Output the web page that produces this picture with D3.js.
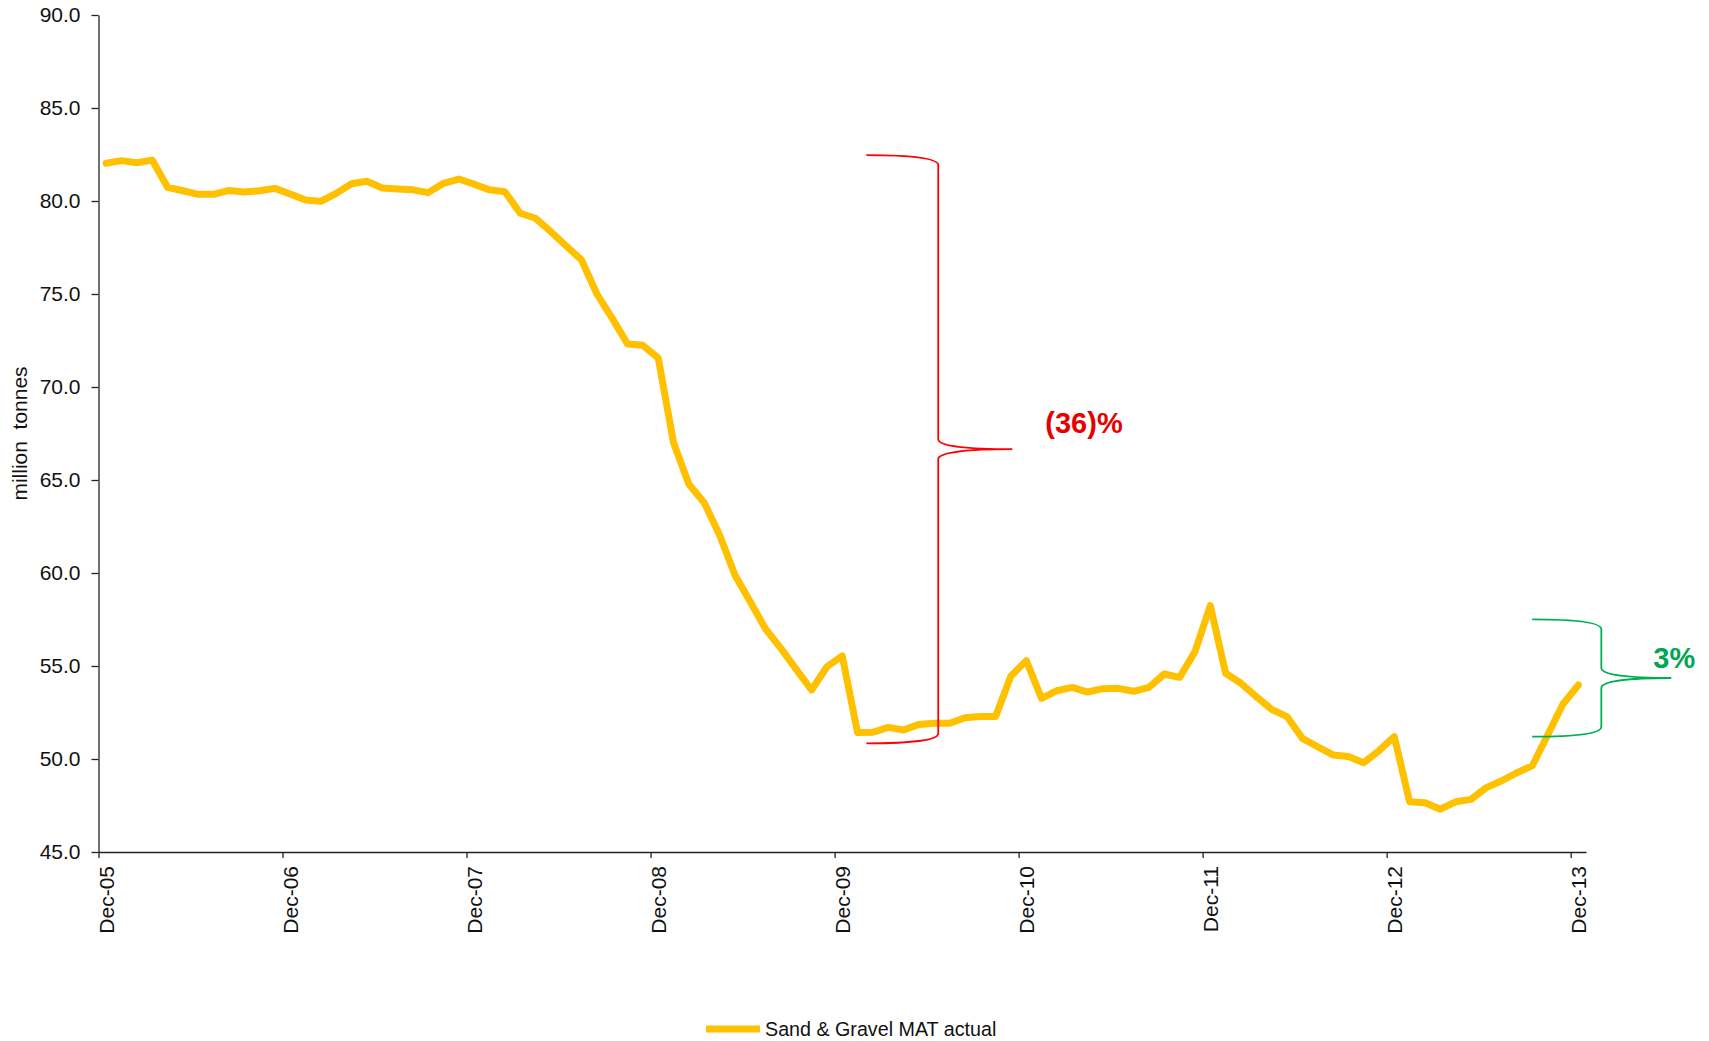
<!DOCTYPE html>
<html>
<head>
<meta charset="utf-8">
<script src="https://cdn.jsdelivr.net/npm/d3@7"></script>
<style>
  body { margin: 0; background: #fff; }
  svg { display: block; font-family: Arial, "Liberation Sans", sans-serif; }
  .axis path, .axis line { stroke: #222; stroke-width: 1.3px; }
  .axis text { font-size: 21px; fill: #111; font-family: Arial, "Liberation Sans", sans-serif; }
</style>
</head>
<body>
<div id="chart-area"></div>
<script>
// Sand & Gravel, moving annual total, one value per month Dec-05 .. Dec-13 (million tonnes)
var mat = [
  82.03, 82.17, 82.06, 82.20, 80.74, 80.55, 80.36, 80.36, 80.57, 80.48, 80.55, 80.68,
  80.38, 80.05, 79.98, 80.41, 80.93, 81.06, 80.70, 80.65, 80.60, 80.45, 80.95, 81.18,
  80.90, 80.60, 80.50, 79.34, 79.07, 78.35, 77.58, 76.83, 75.00, 73.69, 72.31, 72.24,
  71.56, 67.00, 64.77, 63.78, 62.04, 59.89, 58.46, 56.99, 55.95, 54.82, 53.71, 54.96,
  55.54, 51.42, 51.44, 51.70, 51.56, 51.86, 51.92, 51.92, 52.22, 52.28, 52.28, 54.46,
  55.29, 53.26, 53.67, 53.85, 53.60, 53.78, 53.80, 53.64, 53.85, 54.57, 54.39, 55.77,
  58.25, 54.61, 54.07, 53.35, 52.67, 52.28, 51.11, 50.66, 50.22, 50.13, 49.80, 50.45,
  51.20, 47.70, 47.65, 47.30, 47.70, 47.83, 48.46, 48.83, 49.26, 49.64, 51.29, 52.96,
  53.98
];
var tickLabels = ['Dec-05', 'Dec-06', 'Dec-07', 'Dec-08', 'Dec-09', 'Dec-10', 'Dec-11', 'Dec-12', 'Dec-13'];
var yTicks = [45, 50, 55, 60, 65, 70, 75, 80, 85, 90];
var seriesName = 'Sand & Gravel MAT actual';
var yTitle = 'million  tonnes';

// change brackets: top value, bottom value, label
var braceTop = [82.47, 57.51];
var braceBottom = [50.84, 51.2];
var braceLabel = ['(36)%', '3%'];

var width = 1709, height = 1041;

var svg = d3.select('#chart-area').append('svg')
  .attr('width', width)
  .attr('height', height);

// one slot per month, the point sits in the middle of its month
var x = d3.scaleLinear().domain([0, mat.length]).range([98.5, 1586]);
var y = d3.scaleLinear().domain([45, 90]).range([852, 15]);

// y axis
var yAxis = svg.append('g')
  .attr('class', 'axis y-axis')
  .attr('transform', 'translate(' + x(0) + ',0)')
  .call(d3.axisLeft(y).tickValues(yTicks).tickFormat(d3.format('.1f')).tickSize(7).tickPadding(11).tickSizeOuter(0));

// x axis, ticks every 12 months
var xAxis = svg.append('g')
  .attr('class', 'axis x-axis')
  .attr('transform', 'translate(0,' + y(45) + ')')
  .call(d3.axisBottom(x).tickValues(tickLabels.map((d, i) => i * 12)).tickFormat('').tickSize(6).tickSizeOuter(0));

// rotated date labels, centred on the month they name
svg.append('g').selectAll('text')
  .data(tickLabels)
  .enter().append('text')
  .attr('transform', (d, i) => 'translate(' + x(i * 12 + 0.5) + ',' + (y(45) + 14) + ') rotate(-90)')
  .attr('text-anchor', 'end')
  .attr('dy', '0.35em')
  .style('font-size', '21px')
  .style('fill', '#111')
  .text(d => d);

svg.append('text')
  .attr('transform', 'translate(20,' + ((y(45) + y(90)) / 2) + ') rotate(-90)')
  .attr('text-anchor', 'middle')
  .attr('dy', '0.35em')
  .style('font-size', '21px')
  .style('fill', '#111')
  .style('white-space', 'pre')
  .text(yTitle);

// the line
var line = d3.line()
  .x((d, i) => x(i + 0.5))
  .y(d => y(d));

svg.append('path')
  .attr('class', 'line')
  .attr('fill', 'none')
  .attr('stroke', '#FFC000')
  .attr('stroke-width', 7)
  .attr('stroke-linejoin', 'round')
  .attr('stroke-linecap', 'round')
  .attr('d', line(mat));

// curly brackets showing the change
function brace(arm, spine, tip, top, bottom) {
  var xa = x(arm), xs = x(spine), xt = x(tip);
  var yt = y(top), yb = y(bottom), ym = (yt + yb) / 2;
  var r = 10;
  return 'M' + xa + ',' + yt +
    ' C' + (xa + (xs - xa) * 0.6) + ',' + yt + ' ' + xs + ',' + (yt + 3) + ' ' + xs + ',' + (yt + r) +
    ' L' + xs + ',' + (ym - r) +
    ' C' + xs + ',' + (ym - 3) + ' ' + (xs + (xt - xs) * 0.4) + ',' + ym + ' ' + xt + ',' + ym +
    ' C' + (xs + (xt - xs) * 0.4) + ',' + ym + ' ' + xs + ',' + (ym + 3) + ' ' + xs + ',' + (ym + r) +
    ' L' + xs + ',' + (yb - r) +
    ' C' + xs + ',' + (yb - 3) + ' ' + (xa + (xs - xa) * 0.6) + ',' + yb + ' ' + xa + ',' + yb;
}

svg.append('path')
  .attr('fill', 'none')
  .attr('stroke', '#FF0000')
  .attr('stroke-width', 1.8)
  .attr('d', brace(50.07, 54.76, 59.59, braceTop[0], braceBottom[0]));

svg.append('path')
  .attr('fill', 'none')
  .attr('stroke', '#00B050')
  .attr('stroke-width', 1.8)
  .attr('d', brace(93.49, 98.0, 102.56, braceTop[1], braceBottom[1]));

svg.append('text')
  .attr('x', x(59.59) + 33)
  .attr('y', y((braceTop[0] + braceBottom[0]) / 2) - 16)
  .style('font-size', '29px')
  .style('font-weight', 'bold')
  .style('fill', '#E60000')
  .text(braceLabel[0]);

svg.append('text')
  .attr('x', x(102.56) - 18)
  .attr('y', y((braceTop[1] + braceBottom[1]) / 2) - 10)
  .style('font-size', '29px')
  .style('font-weight', 'bold')
  .style('fill', '#00A651')
  .text(braceLabel[1]);

// legend
var legend = svg.append('g').attr('class', 'legend');
legend.append('line')
  .attr('x1', 706).attr('x2', 760)
  .attr('y1', 1029).attr('y2', 1029)
  .attr('stroke', '#FFC000')
  .attr('stroke-width', 7);
legend.append('text')
  .attr('x', 765)
  .attr('y', 1036)
  .style('font-size', '19.7px')
  .style('fill', '#111')
  .text(seriesName);
</script>
</body>
</html>
